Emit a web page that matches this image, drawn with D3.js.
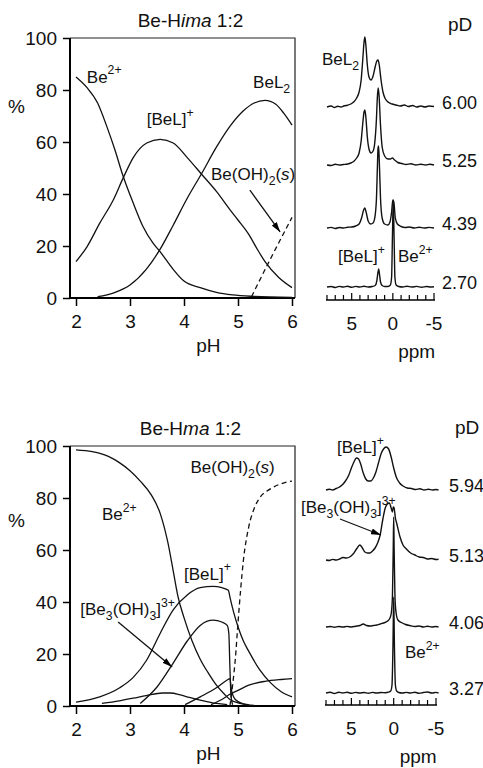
<!DOCTYPE html>
<html>
<head>
<meta charset="utf-8">
<script src="https://cdn.jsdelivr.net/npm/d3@7"></script>
<style>
  body { margin: 0; background: #fff; }
  svg { display: block; font-family: "Liberation Sans", Arial, sans-serif; }
</style>
</head>
<body>
<script>
"use strict";

// ---------- data ----------
const phTicks = [2, 3, 4, 5, 6];
const pctTicks = [0, 20, 40, 60, 80, 100];
const ppmLabels = [5, 0, -5];
const ppmMinor = [8, 7, 6, 5, 4, 3, 2, 1, 0, -1, -2, -3, -4, -5];

// Be-Hima 1:2 speciation, [pH, %]
const imaBe = [[2,85],[2.2,81],[2.4,75],[2.57,66],[2.72,57],[2.87,47],[3.06,36.5],[3.24,27.5],[3.43,21],[3.55,18],[3.8,11],[4.0,6.5],[4.3,4],[4.6,2.2],[4.9,1.2],[5.3,0.6],[6.0,0.2]];
const imaBeL = [[2,14],[2.2,19.6],[2.44,28.8],[2.69,37.7],[2.87,46],[3.06,54],[3.31,59.6],[3.56,61],[3.8,59.6],[4.06,54],[4.33,47.5],[4.6,41],[4.85,34],[5.0,30],[5.2,24.5],[5.35,19],[5.5,14],[5.75,8],[6.0,4]];
const imaBeL2 = [[2.4,0.5],[2.7,2],[3.0,5],[3.3,11],[3.55,18.5],[3.8,28],[4.05,38],[4.33,48],[4.6,58],[4.85,66],[5.1,72],[5.3,75],[5.5,76],[5.7,74.5],[5.85,71],[6.0,66.5]];
const imaOH2 = [[5.25,0.5],[5.6,15],[6.0,31]];

// Be-Hma 1:2 speciation, [pH, %]
const maBe = [[2,98.5],[2.3,97.8],[2.6,96],[2.81,93.5],[3.0,90.5],[3.19,86.5],[3.4,81],[3.56,74],[3.7,63],[3.8,52],[3.89,42],[4.0,34],[4.15,25],[4.3,18],[4.44,13],[4.6,8],[4.75,4.5],[4.85,2.5],[5.0,1.2],[5.2,0.5]];
const maBeL = [[2,1.5],[2.44,3.5],[2.81,7],[3.06,11],[3.31,17.7],[3.56,28],[3.8,37],[4.06,42.7],[4.3,45.5],[4.54,46],[4.7,45.5],[4.82,44.5],[4.86,41],[4.92,36],[5.0,30.5],[5.1,25],[5.2,21],[5.4,14],[5.6,9],[5.8,5.5],[6.0,3.5]];
const maTri = [[3.19,1],[3.5,7.3],[3.8,16.5],[4.06,25],[4.3,31],[4.54,33],[4.7,32.3],[4.8,31],[4.83,28],[4.85,15],[4.87,4],[4.9,0.5]];
const maHump = [[2.48,1],[2.8,2],[3.06,3],[3.3,4],[3.6,5],[3.75,5],[3.93,4.3],[4.1,3.3],[4.3,2.3],[4.6,1],[4.8,0.5]];
const maPeak10 = [[4.02,0.5],[4.3,3.5],[4.6,7],[4.8,10],[4.85,10.5],[4.88,6],[4.95,2.5],[5.1,0.8],[5.3,0.2]];
const maBeL2 = [[4.5,0.5],[4.7,2.5],[4.85,4.5],[5.0,6],[5.2,8],[5.5,9.5],[5.8,10.2],[6.0,10.5]];
const maOH2 = [[4.85,0],[4.9,8],[4.95,18],[5.0,32],[5.05,45],[5.1,56],[5.2,69],[5.3,76],[5.4,80],[5.6,83.5],[5.8,85.5],[6.0,86.5]];

// 9Be NMR spectra, [ppm, intensity]
const imaPD = ["6.00", "5.25", "4.39", "2.70"];
const ima600 = [[8,0],[7.5,1],[7.1,-0.5],[6.7,0.8],[6.3,0],[5.9,1.2],[5.5,1.8],[5.1,3],[4.7,5.5],[4.4,9],[4.1,15],[3.85,27],[3.65,48],[3.5,65],[3.4,70],[3.28,62],[3.1,42],[2.9,30],[2.65,27],[2.4,31],[2.15,40],[1.95,46],[1.8,47],[1.65,42],[1.45,28],[1.2,15],[0.9,8],[0.5,4.5],[0.1,3],[-0.4,2],[-0.9,1],[-1.4,2],[-1.9,0.5],[-2.4,1.5],[-2.9,0],[-3.4,1],[-3.9,0],[-4.4,1],[-5,0.5]];
const ima525 = [[8,0],[7.5,-0.5],[7,0.8],[6.5,0],[6,0.5],[5.5,1],[5.1,2],[4.7,4],[4.4,7],[4.1,12],[3.85,24],[3.65,42],[3.5,53],[3.4,55],[3.28,48],[3.1,28],[2.9,16],[2.65,12],[2.4,14],[2.2,22],[2.0,45],[1.88,68],[1.78,77],[1.68,70],[1.5,40],[1.3,18],[1.0,9],[0.6,6],[0.3,6],[0.05,7],[-0.2,5],[-0.6,2.5],[-1.1,1.5],[-1.6,0.5],[-2.2,1.2],[-2.8,0],[-3.4,0.8],[-4,0],[-4.5,0.8],[-5,0]];
const ima439 = [[8,0],[7.5,0.6],[7,-0.5],[6.5,0.5],[6,0],[5.5,0.8],[5,1],[4.5,2],[4.1,4],[3.8,10],[3.55,18],[3.4,20],[3.25,16],[3.0,7],[2.7,4],[2.4,5],[2.2,10],[2.0,28],[1.88,60],[1.8,80],[1.74,82],[1.66,70],[1.5,30],[1.3,10],[1.0,4],[0.6,3],[0.35,6],[0.15,16],[0.0,28],[-0.12,26],[-0.3,10],[-0.55,4],[-1,1.5],[-1.5,0.5],[-2,1],[-2.6,0],[-3.2,0.8],[-3.8,0],[-4.4,0.6],[-5,0]];
const ima270 = [[8,0],[7.5,0.5],[7,-0.5],[6.5,0.6],[6,0],[5.5,0.8],[5,-0.3],[4.5,0.6],[4,0],[3.5,0.8],[3,0],[2.5,0.5],[2.15,1.5],[1.95,6],[1.8,15],[1.72,18],[1.64,14],[1.5,5],[1.3,1.5],[1.0,0.5],[0.6,0.5],[0.3,2],[0.15,10],[0.05,50],[-0.05,87],[-0.15,50],[-0.25,10],[-0.4,2],[-0.7,0.5],[-1.2,0],[-1.7,0.7],[-2.3,0],[-2.9,0.6],[-3.5,-0.3],[-4.1,0.5],[-4.6,0],[-5,0.3]];

const maPD = ["5.94", "5.13", "4.06", "3.27"];
const ma594 = [[8,0],[7.6,0.8],[7.2,0],[6.8,1.5],[6.5,2.5],[6.1,5],[5.7,9],[5.3,15],[5.0,22],[4.7,28],[4.4,32],[4.15,31],[3.9,26],[3.6,17],[3.3,11],[3.0,9],[2.7,9],[2.4,12],[2.1,18],[1.8,27],[1.5,36],[1.2,41],[0.9,43],[0.6,41],[0.3,33],[0.0,22],[-0.3,13],[-0.7,7],[-1.1,4],[-1.6,2],[-2.1,1.5],[-2.6,0.5],[-3.1,1.2],[-3.6,0],[-4.1,0.7],[-4.6,0],[-5,0.5],[-5.3,0]];
const ma513 = [[8,0],[7.6,-0.5],[7.2,0.6],[6.8,0],[6.4,1],[6,2.5],[5.6,2],[5.2,3],[4.8,6],[4.4,11],[4.0,15],[3.7,12],[3.4,8],[3.1,7],[2.8,7],[2.5,9],[2.2,12],[1.9,17],[1.6,25],[1.3,40],[1.0,52],[0.75,56],[0.5,57],[0.3,52],[0.15,48],[0.05,53],[-0.05,52],[-0.2,42],[-0.35,37],[-0.75,23],[-1.1,15],[-1.5,11],[-2,7],[-2.5,5],[-3,3],[-3.5,2.5],[-4,1],[-4.5,1.5],[-5,0.5],[-5.3,0.8]];
const ma406 = [[8,0],[7.5,0.5],[7,-0.3],[6.5,0.5],[6,0],[5.5,0.6],[5,0],[4.5,0.8],[4,1.5],[3.6,3],[3.2,1.5],[2.8,1],[2.4,1.5],[2,2],[1.6,3],[1.2,4],[0.8,5.5],[0.5,8],[0.3,13],[0.15,30],[0.05,80],[0,110],[-0.05,80],[-0.15,30],[-0.3,13],[-0.5,7],[-0.9,4.5],[-1.4,2.5],[-1.9,1.5],[-2.5,0.5],[-3,1],[-3.5,0],[-4,0.7],[-4.5,0],[-5,0.5],[-5.3,0]];
const ma327 = [[8,0],[7.5,0.8],[7,-0.5],[6.5,0.7],[6,0],[5.5,0.8],[5,-0.3],[4.5,0.6],[4,0],[3.5,0.5],[3,-0.2],[2.5,0.6],[2,0],[1.5,0.5],[1,0.3],[0.6,0.8],[0.35,2],[0.2,8],[0.08,50],[0,96],[-0.08,50],[-0.2,8],[-0.35,2],[-0.6,0.5],[-1,0],[-1.5,0.6],[-2,0],[-2.5,0.8],[-3,-0.3],[-3.5,0.5],[-4,1],[-4.5,0],[-5,0.6],[-5.3,0]];

// ---------- drawing ----------
const svg = d3.select("body").append("svg")
    .attr("width", 483)
    .attr("height", 768);

svg.append("defs").append("marker")
    .attr("id", "head")
    .attr("viewBox", "0 0 10 6")
    .attr("refX", 10).attr("refY", 3)
    .attr("markerUnits", "userSpaceOnUse")
    .attr("markerWidth", 10).attr("markerHeight", 6)
    .attr("orient", "auto")
  .append("path")
    .attr("d", "M0,0L10,3L0,6Z")
    .attr("fill", "#000");

// text with sub/superscripts: parts = [[str, kind], ...]
function rich(g, x, y, parts, size, anchor) {
    const t = g.append("text")
        .attr("x", x).attr("y", y)
        .attr("font-size", size)
        .attr("text-anchor", anchor || "start")
        .attr("fill", "#111");
    let shift = 0;
    parts.forEach(function(p){
        let target = 0, fs = size;
        if (p[1] === "sup") { target = -size * 0.5; fs = size * 0.72; }
        if (p[1] === "sub") { target = size * 0.28; fs = size * 0.72; }
        const ts = t.append("tspan")
            .attr("dy", target - shift)
            .attr("font-size", fs)
            .text(p[0]);
        if (p[1] === "i") ts.attr("font-style", "italic");
        shift = target;
    });
    return t;
}

function speciation(cfg) {
    const x = d3.scaleLinear().domain([2, 6]).range([76, 292]);
    const y = d3.scaleLinear().domain([0, 100]).range([cfg.y0, cfg.y0 - 260]);
    const g = svg.append("g");
    const left = x(2) - 6, right = x(6) + 3;

    // frame
    g.append("path")
        .attr("d", "M" + right + "," + y(0) + "V" + y(100) + "H" + left)
        .attr("fill", "none").attr("stroke", "#222").attr("stroke-width", 1.2);
    g.append("path")
        .attr("d", "M" + left + "," + y(100) + "V" + y(0) + "H" + right)
        .attr("fill", "none").attr("stroke", "#000").attr("stroke-width", 2);

    const yAxis = g.append("g")
        .attr("transform", "translate(" + left + ",0)")
        .call(d3.axisLeft(y).tickValues(pctTicks).tickSize(7).tickSizeOuter(0));
    const xAxis = g.append("g")
        .attr("transform", "translate(0," + y(0) + ")")
        .call(d3.axisBottom(x).tickValues(phTicks).tickFormat(d3.format("d"))
            .tickSize(8).tickSizeOuter(0));
    [yAxis, xAxis].forEach(function(a){
        a.select(".domain").remove();
        a.selectAll("line").attr("stroke", "#000").attr("stroke-width", 1.5);
        a.selectAll("text").attr("font-size", 19).attr("fill", "#111")
            .attr("font-family", "Liberation Sans, Arial, sans-serif");
    });
    yAxis.selectAll("text").attr("x", -13).attr("dy", "0.36em");
    xAxis.selectAll("text").attr("y", 17).attr("dy", "0.71em");

    g.append("text").attr("x", 8).attr("y", y(cfg.pctLabel))
        .attr("font-size", 19).attr("fill", "#111").text("%");
    g.append("text").attr("x", x(4.45)).attr("y", y(0) + 54)
        .attr("font-size", 19).attr("fill", "#111").attr("text-anchor", "middle").text("pH");
    rich(g, x(4.12), y(100) - 11, cfg.title, 19, "middle");

    const line = d3.line()
        .x(function(d){ return x(d[0]); })
        .y(function(d){ return y(d[1]); })
        .curve(d3.curveMonotoneX);
    cfg.series.forEach(function(s){
        g.append("path")
            .attr("d", line(s.data))
            .attr("fill", "none")
            .attr("stroke", "#111")
            .attr("stroke-width", 1.3)
            .attr("stroke-dasharray", s.dashed ? "5,3.5" : null);
    });
    cfg.labels.forEach(function(l){
        rich(g, x(l.at[0]), y(l.at[1]), l.parts, 17);
    });
    cfg.arrows.forEach(function(a){
        g.append("line")
            .attr("x1", x(a[0][0])).attr("y1", y(a[0][1]))
            .attr("x2", x(a[1][0])).attr("y2", y(a[1][1]))
            .attr("stroke", "#111").attr("stroke-width", 1.3)
            .attr("marker-end", "url(#head)");
    });
}

function spectra(cfg) {
    const ppm = d3.scaleLinear().domain([8, -5]).range(cfg.ppmRange);
    const h = d3.scaleLinear().domain([0, 100]).range([0, -100]);
    const g = svg.append("g");

    const axis = g.append("g")
        .attr("transform", "translate(0," + cfg.axisY + ")");
    axis.append("line")
        .attr("x1", ppm(8) - 1).attr("x2", ppm(-5) + 1)
        .attr("stroke", "#000").attr("stroke-width", 1.5);
    axis.selectAll(".minor").data(ppmMinor).enter().append("line")
        .attr("x1", function(d){ return ppm(d); })
        .attr("x2", function(d){ return ppm(d); })
        .attr("y1", 0)
        .attr("y2", function(d){ return d % 5 === 0 ? -7 : -5; })
        .attr("stroke", "#000").attr("stroke-width", 1.2);
    axis.selectAll(".lab").data(ppmLabels).enter().append("text")
        .attr("x", function(d){ return ppm(d); })
        .attr("y", 30)
        .attr("text-anchor", "middle")
        .attr("font-size", 19).attr("fill", "#111")
        .text(function(d){ return d; });
    axis.append("text")
        .attr("x", ppm(-2.9)).attr("y", 58)
        .attr("text-anchor", "middle")
        .attr("font-size", 19).attr("fill", "#111")
        .text("ppm");

    g.append("text").attr("x", cfg.pdX).attr("y", cfg.pdTitleY)
        .attr("font-size", 19).attr("fill", "#111").text("pD");

    const line = d3.line()
        .x(function(d){ return ppm(d[0]); })
        .y(function(d){ return h(d[1]); })
        .curve(d3.curveMonotoneX);
    cfg.traces.forEach(function(tr, i){
        const base = cfg.baselines[i];
        g.append("path")
            .attr("transform", "translate(0," + base + ")")
            .attr("d", line(tr))
            .attr("fill", "none")
            .attr("stroke", "#111")
            .attr("stroke-width", 1.4)
            .attr("stroke-linejoin", "round");
        g.append("text")
            .attr("x", cfg.pdX - 6).attr("y", base + 2)
            .attr("font-size", 18).attr("fill", "#111")
            .text(cfg.pd[i]);
    });
    cfg.labels.forEach(function(l){
        rich(g, l.at[0], l.at[1], l.parts, 17);
    });
    cfg.arrows.forEach(function(a){
        g.append("line")
            .attr("x1", a[0][0]).attr("y1", a[0][1])
            .attr("x2", a[1][0]).attr("y2", a[1][1])
            .attr("stroke", "#111").attr("stroke-width", 1.3)
            .attr("marker-end", "url(#head)");
    });
}

const lblBe = [["Be"], ["2+", "sup"]];
const lblBeL = [["[BeL]"], ["+", "sup"]];
const lblBeL2 = [["BeL"], ["2", "sub"]];
const lblOH2 = [["Be(OH)"], ["2", "sub"], ["(", null], ["s", "i"], [")"]];
const lblTri = [["[Be"], ["3", "sub"], ["(OH)"], ["3", "sub"], ["]"], ["3+", "sup"]];

speciation({
    y0: 298,
    pctLabel: 71,
    title: [["Be-H"], ["ima", "i"], [" 1:2"]],
    series: [
        {data: imaBe}, {data: imaBeL}, {data: imaBeL2}, {data: imaOH2, dashed: true}
    ],
    labels: [
        {at: [2.2, 82.7], parts: lblBe},
        {at: [3.31, 66.5], parts: lblBeL},
        {at: [5.28, 80.8], parts: lblBeL2},
        {at: [4.5, 45.4], parts: lblOH2}
    ],
    arrows: [[[5.22, 41.5], [5.78, 25.4]]]
});

speciation({
    y0: 706,
    pctLabel: 69,
    title: [["Be-H"], ["ma", "i"], [" 1:2"]],
    series: [
        {data: maBe}, {data: maBeL}, {data: maTri}, {data: maHump},
        {data: maPeak10}, {data: maBeL2}, {data: maOH2, dashed: true}
    ],
    labels: [
        {at: [4.12, 89.6], parts: lblOH2},
        {at: [2.48, 71.5], parts: lblBe},
        {at: [4.0, 48.5], parts: lblBeL},
        {at: [2.08, 35], parts: lblTri}
    ],
    arrows: [[[2.78, 32.3], [3.78, 15]]]
});

spectra({
    ppmRange: [327, 434],
    axisY: 300,
    pdX: 448,
    pdTitleY: 31,
    pd: imaPD,
    traces: [ima600, ima525, ima439, ima270],
    baselines: [107, 165, 228, 287],
    labels: [
        {at: [322, 65], parts: lblBeL2},
        {at: [338, 262], parts: lblBeL},
        {at: [398, 262], parts: lblBe}
    ],
    arrows: []
});

spectra({
    ppmRange: [326, 436],
    axisY: 705,
    pdX: 455,
    pdTitleY: 434,
    pd: maPD,
    traces: [ma594, ma513, ma406, ma327],
    baselines: [490, 560, 627, 693],
    labels: [
        {at: [337, 453], parts: lblBeL},
        {at: [301, 513], parts: lblTri},
        {at: [405, 658], parts: lblBe}
    ],
    arrows: [[[340, 519], [381, 535]]]
});
</script>
</body>
</html>
